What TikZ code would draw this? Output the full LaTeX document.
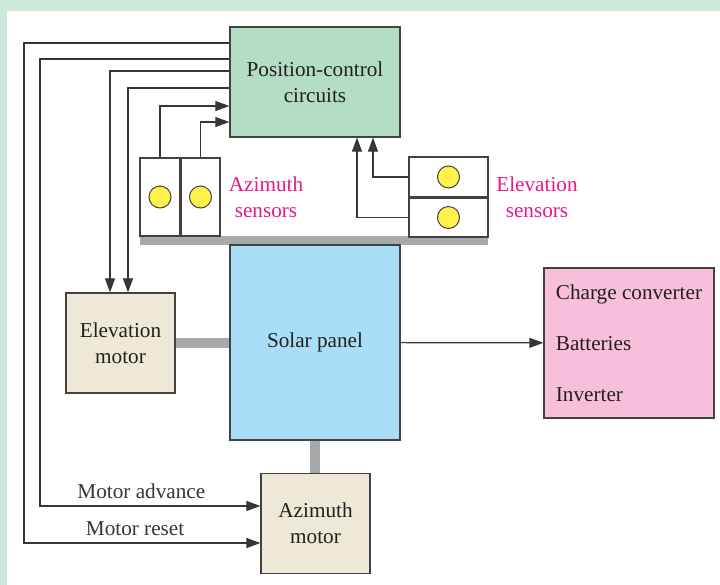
\documentclass[tikz,border=0pt]{standalone}
\usepackage{fontspec}
\setmainfont{Liberation Serif}
\usetikzlibrary{arrows.meta,positioning,calc}
\definecolor{trkMint}{HTML}{B3DEC5}
\definecolor{trkSky}{HTML}{A8DEF8}
\definecolor{trkSand}{HTML}{EEE8D6}
\definecolor{trkPink}{HTML}{F7BFD9}
\definecolor{trkSun}{HTML}{FFF24A}
\definecolor{trkMagenta}{HTML}{E8178A}
\definecolor{trkGray}{HTML}{A7A9AC}
\definecolor{trkFrame}{HTML}{CDE8D8}
\definecolor{trkInk}{HTML}{231F20}

\begin{document}
\begin{tikzpicture}[x=0.5pt,y=-0.5pt,
    font=\fontsize{10.6}{13}\selectfont,text=trkInk,
    blk/.style={draw=trkInk!85,line width=0.65pt,align=center,inner sep=0pt},
    ctrl/.style={blk,fill=trkMint,minimum width=85pt,minimum height=55pt},
    panel/.style={blk,fill=trkSky,minimum width=85pt,minimum height=97.5pt},
    motor/.style={blk,fill=trkSand,minimum width=54.5pt,minimum height=50pt},
    store/.style={blk,fill=trkPink,align=left,minimum width=85pt,
                  minimum height=75pt,font=\fontsize{10.6}{25.5}\selectfont},
    sens/.style={blk,fill=white,inner sep=0pt},
    sun/.style={circle,draw=trkInk!85,fill=trkSun,line width=0.5pt,
                minimum size=11pt,inner sep=0pt},
    tag/.style={text=trkMagenta,align=center},
    arr/.style={-{Triangle[length=7pt,width=5pt]},trkInk!90,line width=0.6pt},
    link/.style={trkGray,line width=5pt}]

  \useasboundingbox (0,0) rectangle (720,585);
  \fill[trkFrame] (0,0) rectangle (720,585);
  \fill[white] (7,11) rectangle (720,585);

  % mounting bar under the sensors
  \fill[trkGray] (140,236) rectangle (488,245);

  \node[ctrl]  (pcc)    at (315,82)    {Position-control\\circuits};
  \node[panel] (solar)  at (315,342.5) {Solar panel};
  \node[motor] (elevm)  at (120.5,343) {Elevation\\motor};
  \node[motor] (azm)    at (315.5,523.5) {Azimuth\\motor};
  \node[store] (charge) at (629,343)   {Charge converter\\Batteries\\Inverter};

  \node[sens,minimum width=20pt,minimum height=39pt]   (azs1) at (160,197)   {};
  \node[sens,minimum width=19.5pt,minimum height=39pt] (azs2) at (200.5,197) {};
  \node[sens,minimum width=39.5pt,minimum height=20pt]   (els1) at (448.5,177)   {};
  \node[sens,minimum width=39.5pt,minimum height=19.5pt] (els2) at (448.5,217.5) {};
  \node[sun] (azc1) at (azs1) {};
  \node[sun] (azc2) at (azs2) {};
  \node[sun] (elc1) at (els1) {};
  \node[sun] (elc2) at (els2) {};

  \node[tag] (azlbl) at (266,197) {Azimuth\\sensors};
  \node[tag] (ellbl) at (537,197) {Elevation\\sensors};

  \draw[link] (elevm.east) -- (elevm.east -| solar.west);
  \draw[link] (solar.south) -- (azm.north -| solar.south);

  \draw[arr] (pcc.west |- 0,43) -| (24,543) -- (azm.west |- 0,543)
    node[pos=0.47,above] {Motor reset};
  \draw[arr] (pcc.west |- 0,59) -| (40,506) -- (azm.west |- 0,506)
    node[pos=0.46,above] {Motor advance};
  \draw[arr] (pcc.west |- 0,71) -| ($(elevm.north)+(-10.5,0)$);
  \draw[arr] (pcc.west |- 0,88) -| ($(elevm.north)+(7.5,0)$);
  \draw[arr] (azs1.north) |- (pcc.west |- 0,106);
  \draw[arr] (azs2.north) |- (pcc.west |- 0,122);
  \draw[arr] (els1.west) -| ($(pcc.south)+(58,0)$);
  \draw[arr] (els2.west) -| ($(pcc.south)+(42,0)$);
  \draw[arr] (solar) -- (charge);
\end{tikzpicture}
\end{document}
